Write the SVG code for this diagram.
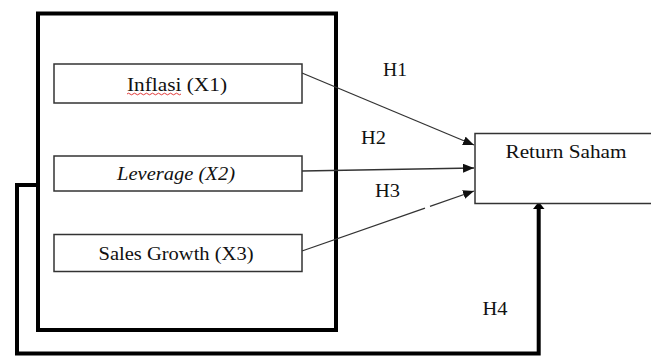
<svg xmlns="http://www.w3.org/2000/svg" width="651" height="356" viewBox="0 0 651 356">
  <style>
    .box { fill: #fff; stroke: #333; stroke-width: 1.5; }
    .thick { fill: none; stroke: #000; stroke-width: 4; }
    .conn { fill: none; stroke: #333; stroke-width: 1.3; }
    .t { font-family: "Liberation Serif", "Times New Roman", serif; font-size: 19px; fill: #111; }
    .c { text-anchor: middle; }
  </style>
  <defs>
    <marker id="arr" markerUnits="userSpaceOnUse" markerWidth="12" markerHeight="10" refX="11" refY="4.5" orient="auto">
      <path d="M0,0 L11,4.5 L0,9 z" fill="#111"/>
    </marker>
  </defs>
  <rect width="651" height="356" fill="#fff"/>

  <g id="group-box">
    <rect class="thick" x="38" y="13.5" width="298" height="316.5"/>
  </g>

  <g id="connectors">
    <line class="conn" x1="302" y1="73" x2="474" y2="145" marker-end="url(#arr)"/>
    <line class="conn" x1="302" y1="171" x2="474" y2="168" marker-end="url(#arr)"/>
    <line class="conn" x1="302" y1="251" x2="425" y2="208.1"/>
    <line class="conn" x1="430" y1="206.3" x2="474" y2="191" marker-end="url(#arr)"/>
    <path class="thick" d="M38,185 H17 V353.4 H538.7 V208"/>
    <polygon points="533,209 544.5,209 540.5,204 537,204" fill="#000"/>
  </g>

  <g id="node-x1">
    <rect class="box" x="54" y="64" width="248" height="39"/>
    <text class="t c" x="177" y="90.5" textLength="100" lengthAdjust="spacingAndGlyphs">Inflasi (X1)</text>
    <path d="M127,94 q1.5,-1.6 3,0 t3,0 t3,0 t3,0 t3,0 t3,0 t3,0 t3,0 t3,0 t3,0 t3,0 t3,0 t3,0 t3,0 t3,0 t3,0 t3,0 t3,0" fill="none" stroke="#d22" stroke-width="0.9"/>
  </g>

  <g id="node-x2">
    <rect class="box" x="54" y="156" width="248" height="35"/>
    <text class="t c" x="176" y="179.5" font-style="italic" textLength="118" lengthAdjust="spacingAndGlyphs">Leverage (X2)</text>
  </g>

  <g id="node-x3">
    <rect class="box" x="54" y="234.5" width="248" height="37"/>
    <text class="t c" x="176" y="259.5" textLength="155" lengthAdjust="spacingAndGlyphs">Sales Growth (X3)</text>
  </g>

  <g id="node-y">
    <rect class="box" x="475" y="133.5" width="240" height="70"/>
    <text class="t c" x="566" y="158" textLength="121" lengthAdjust="spacingAndGlyphs">Return Saham</text>
  </g>

  <g id="labels">
    <text class="t" x="383" y="75.5" textLength="24" lengthAdjust="spacingAndGlyphs">H1</text>
    <text class="t" x="361" y="143.5" textLength="25" lengthAdjust="spacingAndGlyphs">H2</text>
    <text class="t" x="375" y="197" textLength="25" lengthAdjust="spacingAndGlyphs">H3</text>
    <text class="t" x="482.5" y="314.5" textLength="25" lengthAdjust="spacingAndGlyphs">H4</text>
  </g>
</svg>
